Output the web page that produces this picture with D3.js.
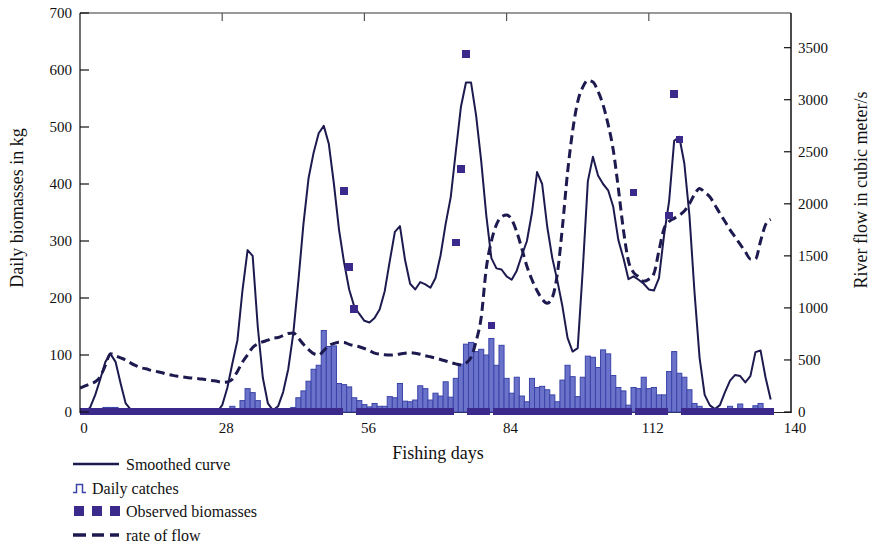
<!DOCTYPE html>
<html><head><meta charset="utf-8">
<script src="https://cdn.jsdelivr.net/npm/d3@7"></script>
<style>body{margin:0;background:#fff}svg{display:block}text{font-family:"Liberation Serif","Times New Roman",serif;fill:#111}</style>
</head><body><svg id="c" width="875" height="548"></svg>
<script>
// ---- data (index = fishing day 0..136) ----
const catches = [0,0,0,0,0,8,8,8,0,0,2,0,0,0,0,0,0,0,0,0,0,0,0,0,0,0,0,0,0,4,
10,0,20,41,34,20,0,0,0,3,5,0,8,25,37,54,75,82,143,115,
116,50,48,44,25,20,13,9,15,10,10,27,25,50,19,18,21,46,41,21,
33,28,53,26,59,84,119,122,106,110,100,129,82,117,59,33,61,28,18,59,
43,45,39,30,18,56,82,62,27,61,98,96,78,109,102,64,43,37,12,43,
41,61,41,43,30,30,71,106,68,61,39,15,10,6,2,0,0,0,10,0,
14,6,6,11,15,6,0];
const smoothed = [0,0,8,30,58,88,102,88,50,15,4,0,0,0,0,0,0,0,0,0,0,0,0,0,0,0,0,0,12,42,
85,126,214,284,274,150,60,15,3,10,35,75,138,230,330,410,455,489,502,470,
400,320,262,215,185,172,160,157,165,180,212,265,316,326,267,225,215,228,224,218,
235,275,330,377,457,535,578,578,520,440,345,270,252,250,238,232,248,275,300,350,
421,400,325,270,230,185,130,106,112,250,405,448,415,400,389,360,302,270,233,238,
232,225,215,213,235,310,370,476,483,436,345,210,95,30,12,5,12,35,55,65,
63,52,63,105,108,60,22];
const observed = [0,0,0,0,0,0,0,0,0,0,0,0,0,0,0,0,0,0,0,0,0,0,0,0,0,0,0,0,0,0,
0,0,0,0,0,0,0,0,0,0,0,0,0,0,0,0,0,0,0,0,
0,0,388,254,181,0,0,0,0,0,0,0,0,0,0,0,0,0,0,0,
0,0,0,0,297,426,628,0,0,0,0,152,0,0,0,0,0,0,0,0,
0,0,0,0,0,0,0,0,0,0,0,0,0,0,0,0,0,0,0,385,
0,0,0,0,0,0,345,558,478,0,0,0,0,0,0,0,0,0,0,0,
0,0,0,0,0,0,0];
const flow = [230,250,270,291,340,450,560,540,520,500,470,445,425,415,400,390,380,365,355,345,338,332,326,322,316,310,302,295,285,288,
315,390,480,550,620,655,675,690,710,715,735,755,760,710,650,600,560,548,590,640,
658,670,668,650,638,627,610,590,565,555,550,548,550,558,565,570,565,555,540,530,
518,505,490,475,462,452,470,525,680,910,1380,1640,1800,1875,1892,1850,1730,1570,1400,1270,
1165,1085,1045,1100,1330,1780,2300,2700,2980,3120,3185,3170,3080,2950,2760,2517,2150,1750,1450,1340,
1300,1255,1275,1330,1550,1760,1830,1860,1890,1930,2000,2090,2148,2110,2068,1990,1908,1830,1750,1680,
1610,1540,1470,1470,1640,1800,1850];
const xTicks = [0,28,56,84,112,140];
const yLeftTicks = [0,100,200,300,400,500,600,700];
const yRightTicks = [0,500,1000,1500,2000,2500,3000,3500];
const days = d3.range(catches.length);

// ---- scales ----
const L=80,R=791,T=13,B=412;
const x = d3.scaleLinear().domain([0,140]).range([L,R]);
const yL = d3.scaleLinear().domain([0,700]).range([B,T]);
const yR = d3.scaleLinear().domain([0,3833]).range([B,T]);
const svg = d3.select("#c");
const bw = x(1)-x(0);

svg.append("clipPath").attr("id","clip").append("rect")
  .attr("x",L).attr("y",T).attr("width",R-L).attr("height",B-T+3);

// frame
svg.append("line").attr("x1",L).attr("x2",R).attr("y1",T).attr("y2",T).attr("stroke","#777").attr("stroke-width",1.5);
svg.append("line").attr("x1",L).attr("x2",R).attr("y1",B+0.5).attr("y2",B+0.5).attr("stroke","#222").attr("stroke-width",1);
svg.selectAll(".tt").data(xTicks.slice(1,-1)).join("line")
  .attr("x1",d=>x(d)).attr("x2",d=>x(d)).attr("y1",T).attr("y2",T+8).attr("stroke","#555").attr("stroke-width",1.2);

const g = svg.append("g").attr("clip-path","url(#clip)");
// bars
g.selectAll("rect.bar").data(days).join("rect").attr("class","bar")
  .attr("x",d=>x(d)-bw/2).attr("width",bw)
  .attr("y",d=>yL(catches[d])).attr("height",d=>yL(0)-yL(catches[d]))
  .attr("fill","#6a72c9").attr("stroke","#3a44a8").attr("stroke-width",1);
// smoothed curve
g.append("path").datum(days)
  .attr("d",d3.line().x(d=>x(d)).y(d=>yL(smoothed[d])))
  .attr("fill","none").attr("stroke","#1d1a4f").attr("stroke-width",2).attr("stroke-linejoin","round");
// flow
g.append("path").datum(days)
  .attr("d",d3.line().x(d=>x(d)).y(d=>yR(flow[d])).curve(d3.curveMonotoneX))
  .attr("fill","none").attr("stroke","#1d1a4f").attr("stroke-width",3).attr("stroke-dasharray","9,5");
// observed squares
const sq = 7.5;
g.selectAll("rect.obs").data(days).join("rect").attr("class","obs")
  .attr("x",d=>x(d)-sq/2).attr("y",d=>yL(observed[d])-sq/2)
  .attr("width",sq).attr("height",sq).attr("fill","#3b2a8c")
  .attr("shape-rendering","crispEdges");

// left axis
svg.append("line").attr("x1",L).attr("x2",L).attr("y1",T).attr("y2",B+1).attr("stroke","#111").attr("stroke-width",1.2);
svg.selectAll(".lt").data(yLeftTicks).join("line")
  .attr("x1",L).attr("x2",L+9).attr("y1",d=>yL(d)).attr("y2",d=>yL(d)).attr("stroke","#111").attr("stroke-width",1.2);
svg.selectAll(".ll").data(yLeftTicks).join("text")
  .attr("x",72).attr("y",d=>yL(d)+5).attr("text-anchor","end").attr("font-size",15).text(d=>d);
// right axis
svg.append("line").attr("x1",R).attr("x2",R).attr("y1",T).attr("y2",B+1).attr("stroke","#111").attr("stroke-width",1.5);
svg.selectAll(".rt").data(yRightTicks).join("line")
  .attr("x1",R).attr("x2",R-7).attr("y1",d=>yR(d)).attr("y2",d=>yR(d)).attr("stroke","#111").attr("stroke-width",1.2);
svg.selectAll(".rl").data(yRightTicks).join("text")
  .attr("x",798).attr("y",d=>yR(d)+5).attr("font-size",15).text(d=>d);
// x labels
svg.selectAll(".xl").data(xTicks).join("text")
  .attr("x",d=>x(d)+4).attr("y",433).attr("text-anchor","middle").attr("font-size",15).text(d=>d);

// titles
svg.append("text").attr("x",438).attr("y",459).attr("text-anchor","middle").attr("font-size",18).text("Fishing days");
svg.append("text").attr("transform","translate(23,208) rotate(-90)").attr("text-anchor","middle").attr("font-size",18).text("Daily biomasses in kg");
svg.append("text").attr("transform","translate(867,190) rotate(-90)").attr("text-anchor","middle").attr("font-size",18).text("River flow in cubic meter/s");

// legend
const lg = svg.append("g");
lg.append("line").attr("x1",73).attr("x2",119).attr("y1",464).attr("y2",464).attr("stroke","#1d1a4f").attr("stroke-width",2.5);
lg.append("text").attr("x",126).attr("y",470).attr("font-size",16).text("Smoothed curve");
lg.append("path").attr("d","M73,492.5 h3.5 v-8 h6 v8 h3.5").attr("fill","none").attr("stroke","#3a44a8").attr("stroke-width",1.5);
lg.append("text").attr("x",92).attr("y",494).attr("font-size",16).text("Daily catches");
[74,92,110].forEach(px=>lg.append("rect").attr("x",px).attr("y",506).attr("width",10).attr("height",10).attr("fill","#3b2a8c"));
lg.append("text").attr("x",126).attr("y",517).attr("font-size",16).text("Observed biomasses");
[[73,86],[92,104],[110,119]].forEach(p=>lg.append("line").attr("x1",p[0]).attr("x2",p[1]).attr("y1",535).attr("y2",535).attr("stroke","#1d1a4f").attr("stroke-width",3.5));
lg.append("text").attr("x",126).attr("y",541).attr("font-size",16).text("rate of flow");
</script></body></html>
